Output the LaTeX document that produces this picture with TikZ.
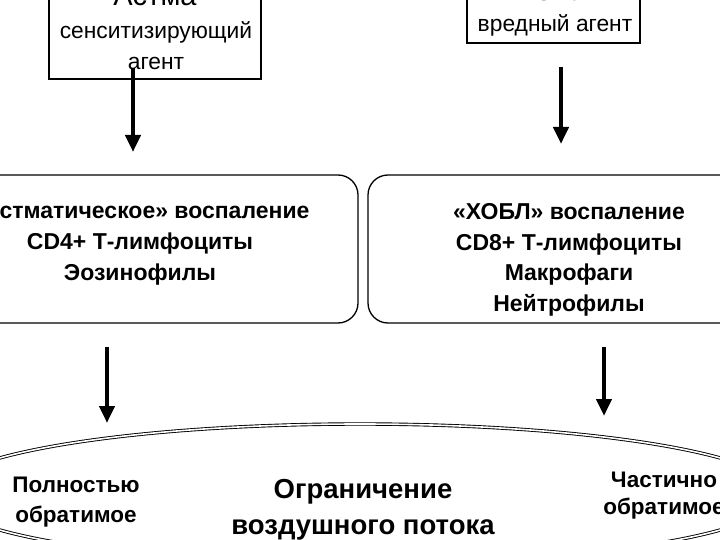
\documentclass[tikz,border=0pt]{standalone}
\usepackage{fontspec}
\setmainfont{Liberation Sans}
\usetikzlibrary{arrows.meta,shapes.geometric}
\begin{document}
\begin{tikzpicture}[x=1pt,y=-1pt,
  box/.style={draw, line width=1.1pt, inner sep=0pt},
  rbox/.style={draw, line width=1.3pt, rounded corners=20pt, inner sep=0pt},
  arr/.style={line width=4.5pt, -{Triangle[length=17pt,width=15pt]}},
  reg/.style={font=\fontsize{22.8}{31}\selectfont, align=center, inner sep=0pt},
  bld/.style={font=\bfseries\fontsize{23}{30.7}\selectfont, align=center, inner sep=0pt},
  elt/.style={font=\bfseries\fontsize{22.5}{30}\selectfont, align=center, inner sep=0pt},
]
\useasboundingbox (0,0) rectangle (720,540);
\fill[white] (0,0) rectangle (720,540);
\clip (0,0) rectangle (720,540);
% top boxes
\node[box, minimum width=212pt, minimum height=109pt] (tl) at (155,24.5) {};
\node[font=\fontsize{29}{30}\selectfont, inner sep=0pt] (tlh) at (155,-4) {Астма};
\node[reg] (tlt) at (156,46) {сенситизирующий\\агент};
\node[box, minimum width=173pt, minimum height=68pt] (tr) at (553.5,9) {};
\node[font=\bfseries\fontsize{27}{30}\selectfont, inner sep=0pt] (trh) at (554,-9) {ХОБЛ};
\node[reg] (trt) at (555,25) {вредный агент};
% middle boxes
\node[rbox, minimum width=438pt, minimum height=148pt] (ml) at (139,249) {};
\node[bld] (mlt) at (140,244) {«Астматическое» воспаление\\CD4+ Т-лимфоциты\\Эозинофилы};
\node[rbox, minimum width=432pt, minimum height=148pt] (mr) at (584,249) {};
\node[bld] (mrt) at (569,260) {«ХОБЛ» воспаление\\CD8+ Т-лимфоциты\\Макрофаги\\Нейтрофилы};
% ellipse
\node[draw, double, line width=0.9pt, double distance=1.6pt, ellipse,
      minimum width=840pt, minimum height=140pt, inner sep=0pt] (el) at (360,494) {};
\node[elt] (el1) at (76,502) {Полностью\\обратимое};
\node[font=\bfseries\fontsize{27.5}{36}\selectfont, align=center, inner sep=0pt] (el2) at (363,510) {Ограничение\\воздушного потока};
\node[elt, font=\bfseries\fontsize{22.5}{27}\selectfont] (el3) at (664,496) {Частично\\обратимое};
% arrows
\coordinate (a1s) at (133,68);  \coordinate (a1e) at (133,152);
\coordinate (a2s) at (561,67);  \coordinate (a2e) at (561,144);
\coordinate (a3s) at (107,347); \coordinate (a3e) at (107,423);
\coordinate (a4s) at (604,347); \coordinate (a4e) at (604,416);
\draw[arr] (a1s) -- (a1e);
\draw[arr] (a2s) -- (a2e);
\draw[arr] (a3s) -- (a3e);
\draw[arr] (a4s) -- (a4e);
\end{tikzpicture}
\end{document}
